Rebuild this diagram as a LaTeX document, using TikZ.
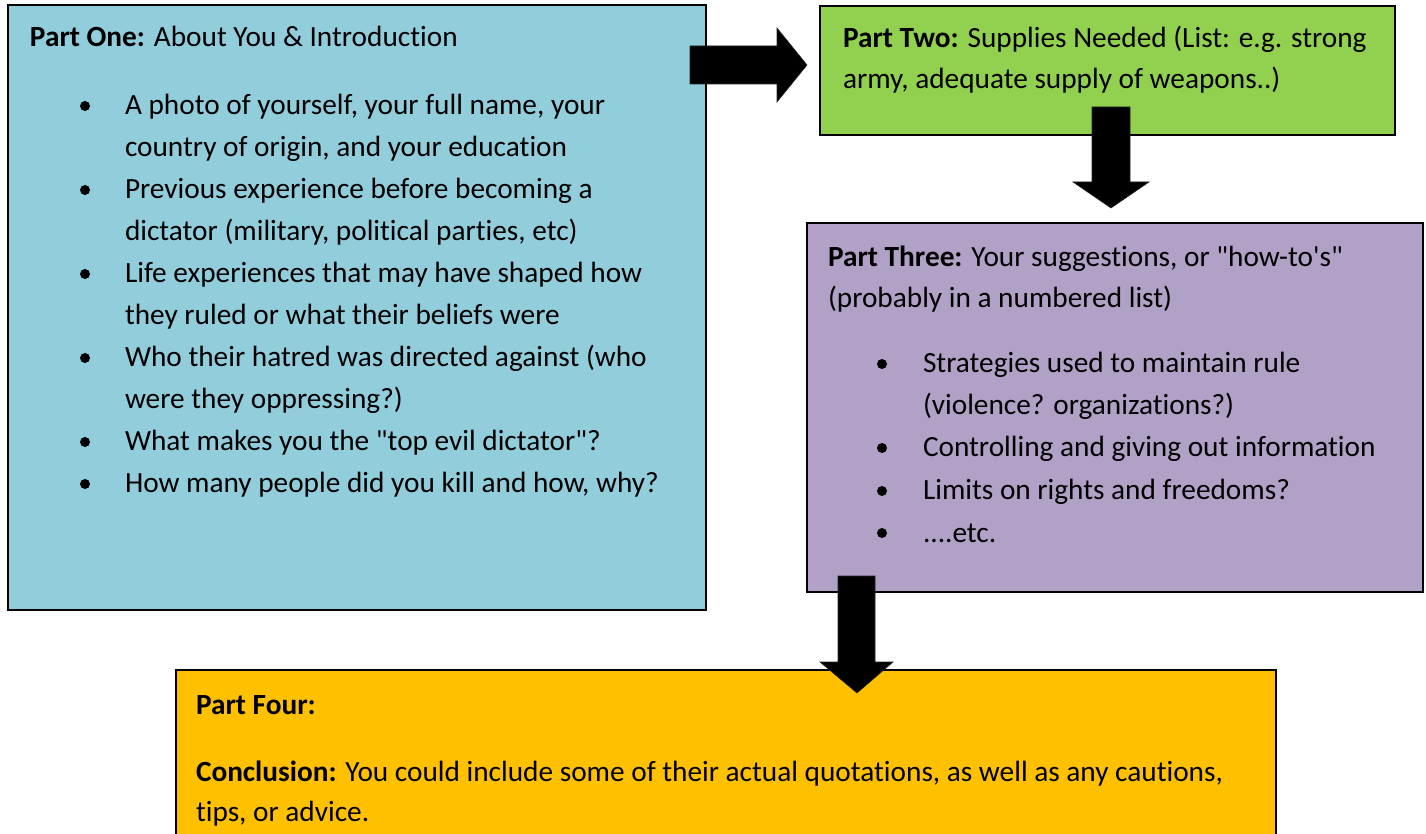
\documentclass[tikz,border=0pt]{standalone}
\usepackage{fontspec}
\setmainfont{Carlito}[Ligatures={TeXOff,NoCommon}]
\definecolor{cOne}{HTML}{92CDDC}
\definecolor{cTwo}{HTML}{92D050}
\definecolor{cThree}{HTML}{B2A1C7}
\definecolor{cFour}{HTML}{FFC000}
\begin{document}
\begin{tikzpicture}[x=0.5pt,y=-0.5pt,
  box/.style={draw=black, line width=1pt, anchor=north west, inner sep=0pt, outer sep=0pt},
  txt/.style={anchor=base west, inner sep=0pt, outer sep=0pt, font=\fontsize{14.65}{21}\selectfont},
  bul/.style={fill=black, circle, inner sep=0pt, minimum size=5pt},
  blockarrow/.style={fill=black, draw=black!85, line width=0.3pt, line join=miter}]
\useasboundingbox (0,0) rectangle (1426,834);
\clip (0,0) rectangle (1426,834);
% boxes
\node[box, fill=cOne, minimum width=349pt, minimum height=302.5pt] (p1) at (8,5) {};
\node[box, fill=cTwo, minimum width=287.5pt, minimum height=64.5pt] (p2) at (820,6) {};
\node[box, fill=cThree, minimum width=308pt, minimum height=184.5pt] (p3) at (807,223) {};
\node[box, fill=cFour, minimum width=550pt, minimum height=90pt] (p4) at (176,670) {};
% Part One
\node[txt] (t1a) at (30,47) {\textbf{Part One:} About You \& Introduction};
\node[bul] (b1a) at (85,106) {};
\node[txt] (t1b) at (125,115) {A photo of yourself, your full name, your};
\node[txt] (t1c) at (125,157) {country of origin, and your education};
\node[bul] (b1b) at (85,190) {};
\node[txt] (t1d) at (125,199) {Previous experience before becoming a};
\node[txt] (t1e) at (125,241) {dictator (military, political parties, etc)};
\node[bul] (b1c) at (85,274) {};
\node[txt] (t1f) at (125,283) {Life experiences that may have shaped how};
\node[txt] (t1g) at (125,325) {they ruled or what their beliefs were};
\node[bul] (b1d) at (85,358) {};
\node[txt] (t1h) at (125,367) {Who their hatred was directed against (who};
\node[txt] (t1i) at (125,409) {were they oppressing?)};
\node[bul] (b1e) at (85,442) {};
\node[txt] (t1j) at (125,451) {What makes you the "top evil dictator"?};
\node[bul] (b1f) at (85,484) {};
\node[txt] (t1k) at (125,493) {How many people did you kill and how, why?};
% Part Two
\node[txt] (t2a) at (843,48) {\textbf{Part Two:} Supplies Needed (List: e.g. strong};
\node[txt] (t2b) at (843,89) {army, adequate supply of weapons..)};
% Part Three
\node[txt] (t3a) at (828,267) {\textbf{Part Three:} Your suggestions, or "how-to's"};
\node[txt] (t3b) at (828,308) {(probably in a numbered list)};
\node[bul] (b3a) at (882,364) {};
\node[txt] (t3c) at (923,373) {Strategies used to maintain rule};
\node[txt] (t3d) at (923,415) {(violence? organizations?)};
\node[bul] (b3b) at (882,448) {};
\node[txt] (t3e) at (923,457) {Controlling and giving out information};
\node[bul] (b3c) at (882,491) {};
\node[txt] (t3f) at (923,500) {Limits on rights and freedoms?};
\node[bul] (b3d) at (882,533) {};
\node[txt] (t3g) at (923,542) {....etc.};
% Part Four
\node[txt] (t4a) at (196,714) {\textbf{Part Four:}};
\node[txt] (t4b) at (196,781) {\textbf{Conclusion:} You could include some of their actual quotations, as well as any cautions,};
\node[txt] (t4c) at (196,821) {tips, or advice.};
% block arrows
\draw[blockarrow] (690,46) -- (777,46) -- (777,28) -- (807,65) -- (777,102) -- (777,84) -- (690,84) -- cycle;
\draw[blockarrow] (1092,107) -- (1130,107) -- (1130,182) -- (1149,182) -- (1111,208) -- (1073,182) -- (1092,182) -- cycle;
\draw[blockarrow] (838,576) -- (875,576) -- (875,662) -- (893,662) -- (857,693) -- (820,662) -- (838,662) -- cycle;
\end{tikzpicture}
\end{document}
